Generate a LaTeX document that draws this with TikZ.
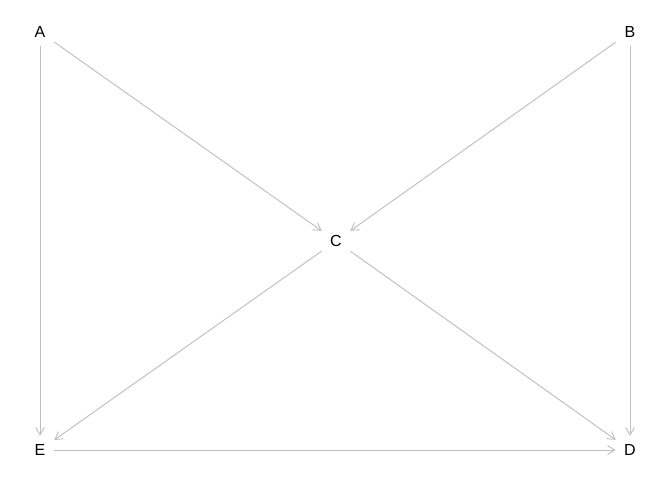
\documentclass[tikz,border=0pt]{standalone}
\usepackage{fontspec}
\setmainfont{Liberation Sans}
\usetikzlibrary{arrows.meta}
\definecolor{edgegray}{HTML}{BEBEBE}

\begin{document}
\begin{tikzpicture}[
    x=0.75pt, y=-0.75pt,
    arrow/.style={-{Straight Barb[length=5.5pt,width=6.5pt]}, draw=edgegray, line width=0.7pt},
    vertex/.style={rectangle, minimum width=21pt, minimum height=21pt,
                   inner sep=0pt, font=\fontsize{12}{14}\selectfont}
]
\useasboundingbox (0, 0) rectangle (672, 480);
\node[vertex] (A) at (40, 32) {A};
\node[vertex] (B) at (630, 32) {B};
\node[vertex] (C) at (336, 241) {C};
\node[vertex] (E) at (40, 450) {E};
\node[vertex] (D) at (630, 450) {D};

\draw[arrow] (A) -- (C);
\draw[arrow] (B) -- (C);
\draw[arrow] (A) -- (E);
\draw[arrow] (B) -- (D);
\draw[arrow] (C) -- (E);
\draw[arrow] (C) -- (D);
\draw[arrow] (E) -- (D);
\end{tikzpicture}
\end{document}
